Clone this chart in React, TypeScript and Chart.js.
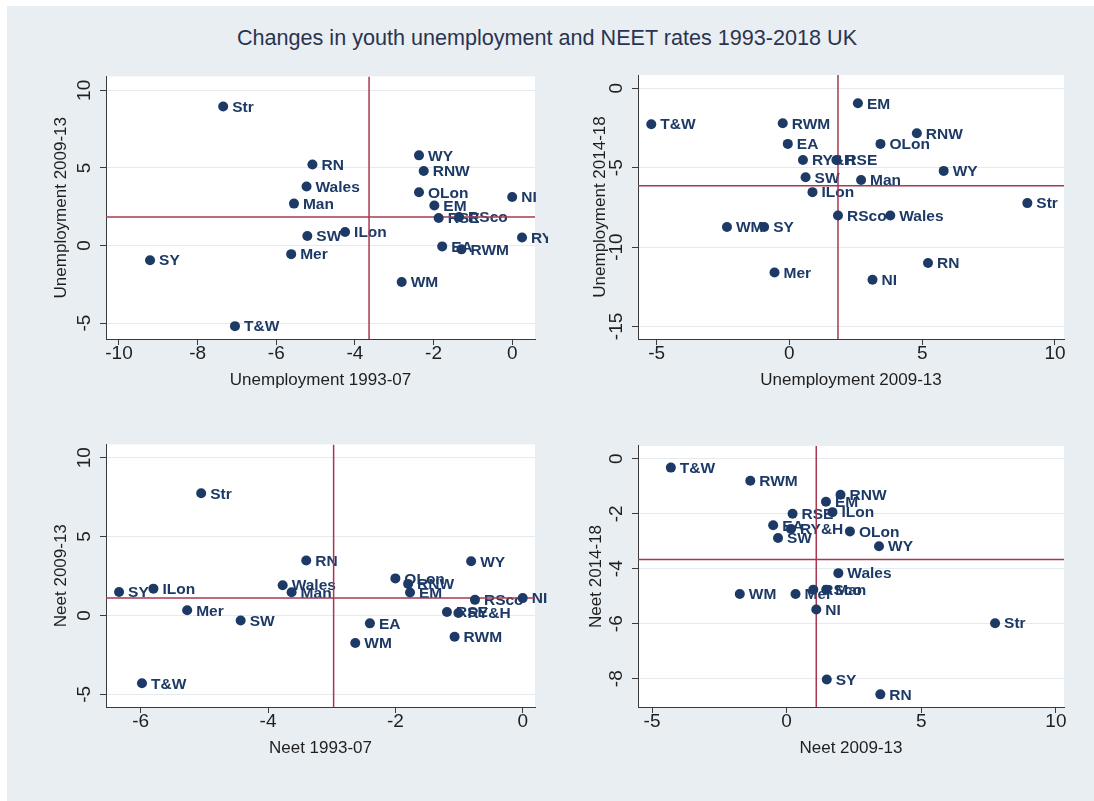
import React, { useEffect, useRef } from "react";
import { Chart, registerables } from "chart.js";

Chart.register(...registerables);

// ---------------- data ----------------
const regions = [
  "T&W", "RN", "Str", "RNW", "Man", "Mer", "WY", "SY", "RY&H", "EM",
  "WM", "RWM", "EA", "ILon", "OLon", "RSE", "SW", "Wales", "RSco", "NI",
];

// Unemployment change 1993-07
const unemp9307 = [
  -7.05, -5.08, -7.35, -2.25, -5.55, -5.62, -2.37, -9.21, 0.25, -1.98,
  -2.81, -1.29, -1.78, -4.25, -2.37, -1.87, -5.21, -5.23, -1.35, 0.0,
];
// Unemployment change 2009-13
const unemp0913 = [
  -5.2, 5.22, 8.96, 4.8, 2.7, -0.56, 5.81, -0.95, 0.51, 2.58,
  -2.35, -0.25, -0.06, 0.87, 3.43, 1.77, 0.61, 3.8, 1.83, 3.13,
];
// Unemployment change 2014-18
const unemp1418 = [
  -2.26, -11.0, -7.23, -2.83, -5.77, -11.6, -5.2, -8.74, -4.51, -0.94,
  -8.74, -2.2, -3.5, -6.54, -3.5, -4.51, -5.6, -8.01, -8.01, -12.06,
];
// NEET change 1993-07
const neet9307 = [
  -5.98, -3.4, -5.05, -1.8, -3.63, -5.27, -0.81, -6.34, -1.01, -1.77,
  -2.63, -1.07, -2.4, -5.8, -2.0, -1.19, -4.43, -3.77, -0.75, 0.0,
];
// NEET change 2009-13
const neet0913 = [
  -4.3, 3.48, 7.74, 2.0, 1.47, 0.33, 3.43, 1.49, 0.16, 1.46,
  -1.74, -1.35, -0.5, 1.7, 2.35, 0.22, -0.32, 1.92, 0.99, 1.1,
];
// NEET change 2014-18
const neet1418 = [
  -0.32, -8.57, -5.98, -1.31, -4.76, -4.92, -3.18, -8.03, -2.55, -1.56,
  -4.92, -0.8, -2.42, -1.94, -2.64, -2.0, -2.88, -4.16, -4.76, -5.48,
];

// reference lines (means)
const refUnemp9307 = -3.64;
const refUnemp0913 = 1.83;
const refUnemp1418 = -6.13;
const refNeet9307 = -2.97;
const refNeet0913 = 1.1;
const refNeet1418 = -3.66;

// tick labels
const ticksUnemp9307 = [-10, -8, -6, -4, -2, 0];
const ticksUnemp0913Y = [-5, 0, 5, 10];
const ticksUnemp0913X = [-5, 0, 5, 10];
const ticksUnemp1418 = [-15, -10, -5, 0];
const ticksNeet9307 = [-6, -4, -2, 0];
const ticksNeet0913Y = [-5, 0, 5, 10];
const ticksNeet0913X = [-5, 0, 5, 10];
const ticksNeet1418 = [-8, -6, -4, -2, 0];

const chartTitle = "Changes in youth unemployment and NEET rates 1993-2018 UK";

// ---------------- styling ----------------
const FONT = "'Liberation Sans', Arial, Helvetica, sans-serif";
const NAVY = "#1d3a66";
const REF = "#a8384f";
const AXIS = "#3a3a3a";
const GRID = "#e4ebef";
const BG = "#e9eef2";
const TEXT = "#1f1f1f";

type Panel = {
  xs: number[];
  ys: number[];
  xTitle: string;
  yTitle: string;
  xTicks: number[];
  yTicks: number[];
  xMin: number;
  xMax: number;
  yMin: number;
  yMax: number;
  xRef: number;
  yRef: number;
  left: number;
  top: number;
  width: number;
  height: number;
  yScaleWidth: number;
  padRight: number;
  yTitlePad: number;
  yTickPad: number;
};

const panels: Panel[] = [
  {
    xs: unemp9307, ys: unemp0913,
    xTitle: "Unemployment 1993-07", yTitle: "Unemployment 2009-13",
    xTicks: ticksUnemp9307, yTicks: ticksUnemp0913Y,
    xMin: -10.33, xMax: 0.58, yMin: -6.03, yMax: 10.9,
    xRef: refUnemp9307, yRef: refUnemp0913,
    left: 20, top: 60, width: 530, height: 340,
    yScaleWidth: 86, padRight: 15, yTitlePad: 31, yTickPad: 5,
  },
  {
    xs: unemp0913, ys: unemp1418,
    xTitle: "Unemployment 2009-13", yTitle: "Unemployment 2014-18",
    xTicks: ticksUnemp0913X, yTicks: ticksUnemp1418,
    xMin: -5.7, xMax: 10.34, yMin: -15.79, yMax: 0.84,
    xRef: refUnemp0913, yRef: refUnemp1418,
    left: 560, top: 60, width: 520, height: 340,
    yScaleWidth: 78, padRight: 16, yTitlePad: 30, yTickPad: 1.5,
  },
  {
    xs: neet9307, ys: neet0913,
    xTitle: "Neet 1993-07", yTitle: "Neet 2009-13",
    xTicks: ticksNeet9307, yTicks: ticksNeet0913Y,
    xMin: -6.545, xMax: 0.193, yMin: -5.8, yMax: 10.84,
    xRef: refNeet9307, yRef: refNeet0913,
    left: 20, top: 428, width: 530, height: 340,
    yScaleWidth: 86, padRight: 15, yTitlePad: 31, yTickPad: 5,
  },
  {
    xs: neet0913, ys: neet1418,
    xTitle: "Neet 2009-13", yTitle: "Neet 2014-18",
    xTicks: ticksNeet0913X, yTicks: ticksNeet1418,
    xMin: -5.52, xMax: 10.3, yMin: -9.03, yMax: 0.47,
    xRef: refNeet0913, yRef: refNeet1418,
    left: 560, top: 428, width: 520, height: 340,
    yScaleWidth: 78, padRight: 16, yTitlePad: 26, yTickPad: 6.5,
  },
];

function ScatterPanel({ p }: { p: Panel }) {
  const ref = useRef<HTMLCanvasElement | null>(null);

  useEffect(() => {
    if (!ref.current) return;

    const plotBg = {
      id: "plotBg",
      beforeDraw(chart: any) {
        const { ctx, chartArea: a } = chart;
        ctx.save();
        ctx.fillStyle = "#ffffff";
        ctx.fillRect(a.left, a.top, a.right - a.left, a.bottom - a.top);
        ctx.restore();
      },
    };

    const pointLabels = {
      id: "pointLabels",
      beforeDatasetsDraw(chart: any) {
        const { ctx, chartArea: a } = chart;
        const meta = chart.getDatasetMeta(0);
        ctx.save();
        ctx.beginPath();
        ctx.rect(a.left, a.top, a.right - a.left + 13, a.bottom - a.top);
        ctx.clip();
        ctx.font = `bold 15.5px ${FONT}`;
        ctx.fillStyle = NAVY;
        ctx.textAlign = "left";
        ctx.textBaseline = "middle";
        meta.data.forEach((el: any, i: number) => {
          ctx.fillText(regions[i], el.x + 9, el.y + 1);
        });
        ctx.restore();
      },
    };

    const points = regions.map((_, i) => ({ x: p.xs[i], y: p.ys[i] }));

    const chart = new Chart(ref.current, {
      type: "scatter",
      data: {
        datasets: [
          {
            data: points,
            pointRadius: 5,
            pointHoverRadius: 5,
            pointBackgroundColor: NAVY,
            pointBorderWidth: 0,
            borderWidth: 0,
            order: 0,
          },
          {
            data: [
              { x: p.xRef, y: p.yMin },
              { x: p.xRef, y: p.yMax },
            ],
            showLine: true,
            borderColor: REF,
            borderWidth: 1.5,
            pointRadius: 0,
            order: 1,
          },
          {
            data: [
              { x: p.xMin, y: p.yRef },
              { x: p.xMax, y: p.yRef },
            ],
            showLine: true,
            borderColor: REF,
            borderWidth: 1.5,
            pointRadius: 0,
            order: 1,
          },
        ],
      } as any,
      options: {
        animation: false,
        responsive: false,
        devicePixelRatio: 1,
        layout: { padding: { top: 15, right: p.padRight, left: 0, bottom: 0 } },
        plugins: {
          legend: { display: false },
          tooltip: { enabled: false },
          title: { display: false },
        },
        scales: {
          x: {
            type: "linear",
            position: "bottom",
            min: p.xMin,
            max: p.xMax,
            afterBuildTicks: (s: any) => {
              s.ticks = p.xTicks.map((v) => ({ value: v }));
            },
            afterFit: (s: any) => {
              s.height = 61;
            },
            ticks: {
              font: { size: 19, family: FONT },
              color: TEXT,
              padding: -2.5,
              maxRotation: 0,
              autoSkip: false,
              callback: (v: any) => String(v),
            },
            grid: {
              drawOnChartArea: false,
              drawTicks: true,
              tickLength: 6,
              tickColor: AXIS,
              tickWidth: 1,
            },
            border: { display: true, color: AXIS, width: 1 },
            title: {
              display: true,
              text: p.xTitle,
              font: { size: 17, family: FONT },
              color: TEXT,
              padding: { top: 0, bottom: 9 },
            },
          },
          y: {
            type: "linear",
            position: "left",
            min: p.yMin,
            max: p.yMax,
            afterBuildTicks: (s: any) => {
              s.ticks = p.yTicks.map((v) => ({ value: v }));
            },
            afterFit: (s: any) => {
              s.width = p.yScaleWidth;
            },
            ticks: {
              font: { size: 19, family: FONT },
              color: TEXT,
              padding: p.yTickPad,
              minRotation: 90,
              maxRotation: 90,
              crossAlign: "center",
              autoSkip: false,
              callback: (v: any) => String(v),
            },
            grid: {
              drawOnChartArea: true,
              color: GRID,
              lineWidth: 1,
              drawTicks: true,
              tickLength: 6,
              tickColor: AXIS,
              tickWidth: 1,
            },
            border: { display: true, color: AXIS, width: 1 },
            title: {
              display: true,
              text: p.yTitle,
              font: { size: 17, family: FONT },
              color: TEXT,
              padding: { top: p.yTitlePad, bottom: 0 },
            },
          },
        },
      } as any,
      plugins: [plotBg, pointLabels],
    });

    return () => chart.destroy();
  }, [p]);

  return (
    <canvas
      ref={ref}
      width={p.width}
      height={p.height}
      style={{
        position: "absolute",
        left: p.left,
        top: p.top,
        width: p.width,
        height: p.height,
      }}
    />
  );
}

export default function App() {
  return (
    <div
      style={{
        position: "absolute",
        left: 0,
        top: 0,
        width: 1094,
        height: 801,
        background: "#ffffff",
        overflow: "hidden",
      }}
    >
      <div
        style={{
          position: "absolute",
          left: 7,
          top: 6,
          width: 1087,
          height: 795,
          background: BG,
        }}
      />
      <div
        style={{
          position: "absolute",
          left: 0,
          top: 26,
          width: 1094,
          textAlign: "center",
          fontFamily: FONT,
          fontSize: 21.6,
          lineHeight: "24px",
          color: "#2a3450",
        }}
      >
        {chartTitle}
      </div>
      {panels.map((p, i) => (
        <ScatterPanel key={i} p={p} />
      ))}
    </div>
  );
}
